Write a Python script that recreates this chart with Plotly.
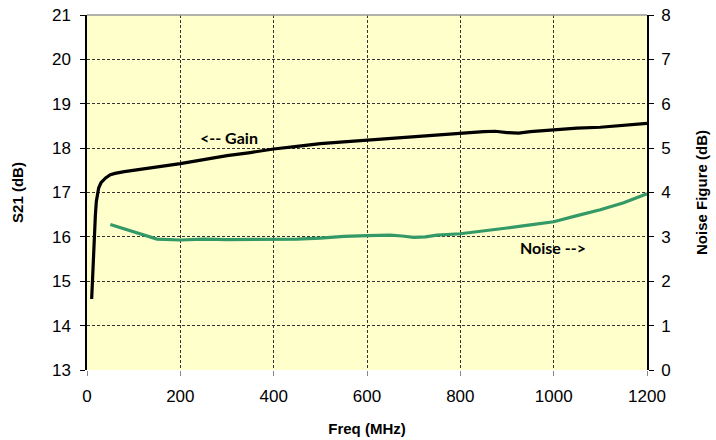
import plotly.graph_objects as go

# Data
freq_gain = [10, 12, 14, 16, 18, 20, 25, 30, 40, 50, 60, 80, 100, 150, 200, 250, 300, 350,
             400, 450, 500, 550, 600, 650, 700, 750, 800, 850, 875, 900, 925, 950, 1000,
             1050, 1100, 1150, 1200]
gain_db = [14.6, 15.2, 15.7, 16.1, 16.5, 16.8, 17.1, 17.22, 17.33, 17.4, 17.43, 17.47, 17.5,
           17.56, 17.65, 17.74, 17.83, 17.9, 17.98, 18.04, 18.1, 18.14, 18.18, 18.22, 18.26,
           18.3, 18.33, 18.37, 18.38, 18.35, 18.34, 18.37, 18.41, 18.45, 18.47, 18.51, 18.56]

freq_noise = [50, 100, 150, 200, 250, 300, 350, 400, 450, 500, 550, 600, 650, 675, 700, 725,
              750, 800, 850, 900, 950, 1000, 1050, 1100, 1150, 1200]
noise_db = [3.28, 3.12, 2.95, 2.93, 2.95, 2.94, 2.94, 2.94, 2.95, 2.97, 3.01, 3.03, 3.04, 3.02,
            2.99, 3.0, 3.04, 3.07, 3.13, 3.2, 3.27, 3.34, 3.48, 3.61, 3.77, 3.97]

x_ticks = [0, 200, 400, 600, 800, 1000, 1200]
s21_ticks = [13, 14, 15, 16, 17, 18, 19, 20, 21]
nf_ticks = [0, 1, 2, 3, 4, 5, 6, 7, 8]

fig = go.Figure()
fig.add_trace(go.Scatter(x=freq_gain, y=gain_db, mode="lines",
                         line=dict(color="#000000", width=3.2), yaxis="y", showlegend=False))
fig.add_trace(go.Scatter(x=freq_noise, y=noise_db, mode="lines",
                         line=dict(color="#339966", width=3.2), yaxis="y2", showlegend=False))

tick_font = dict(family="Liberation Sans, Arial", size=17, color="#000000")
title_font = dict(family="Liberation Sans, Arial", size=15, color="#000000")

fig.update_layout(
    width=716, height=440,
    margin=dict(l=87, r=69, t=15, b=70),
    paper_bgcolor="#FFFFFF",
    plot_bgcolor="#FFFFCC",
    xaxis=dict(range=[0, 1200], tickvals=x_ticks, ticks="outside", ticklen=5,
               tickcolor="#888888", showgrid=True, gridcolor="#333333", gridwidth=1,
               griddash="3px,2px", zeroline=False, showline=False, tickfont=tick_font,
               ticklabelstandoff=6, automargin=False,
               title=dict(text="<b>Freq (MHz)</b>", font=title_font, standoff=18)),
    yaxis=dict(range=[13, 21], tickvals=s21_ticks, ticks="outside", ticklen=5,
               tickcolor="#000000", showgrid=True, gridcolor="#333333", gridwidth=1,
               griddash="3px,2px", zeroline=False, showline=True, linecolor="#000000",
               linewidth=1.5, tickfont=tick_font, ticklabelstandoff=6, automargin=False,
               title=dict(text="<b>S21 (dB)</b>", font=title_font, standoff=25)),
    yaxis2=dict(range=[0, 8], tickvals=nf_ticks, overlaying="y", side="right",
                ticks="outside", ticklen=5, tickcolor="#000000", showgrid=False,
                zeroline=False, showline=True, linecolor="#000000", linewidth=1.5,
                tickfont=tick_font, ticklabelstandoff=4, automargin=False,
                title=dict(text="<b>Noise Figure (dB)</b>", font=title_font, standoff=27)),
    shapes=[dict(type="line", xref="paper", yref="paper", x0=0, x1=1, y0=1, y1=1,
                 line=dict(color="#999999", width=1.5))],
    annotations=[
        dict(x=304, y=18.25, xref="x", yref="y", text="<b>&lt;-- Gain</b>", showarrow=False,
             font=dict(family="Lato", size=16, color="#000000")),
        dict(x=999, y=2.77, xref="x", yref="y2", text="<b>Noise --&gt;</b>", showarrow=False,
             font=dict(family="Lato", size=16, color="#000000")),
    ],
)

fig.write_html("out.html")
